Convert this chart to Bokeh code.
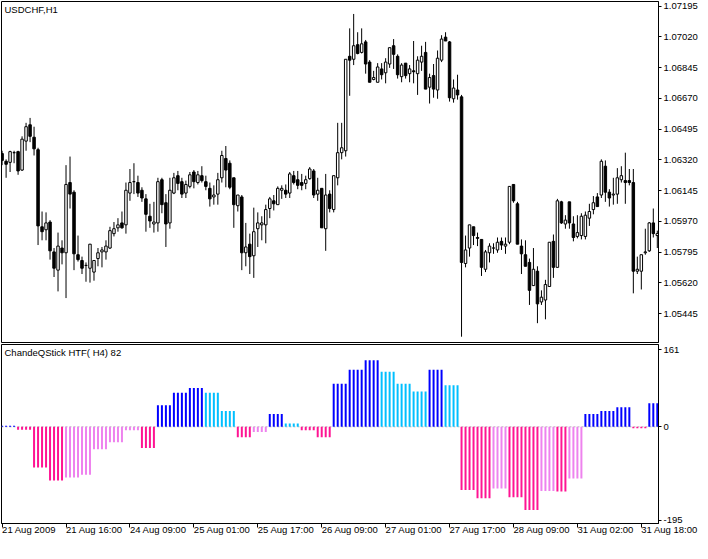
from bokeh.plotting import figure
from bokeh.layouts import column
from bokeh.models import Range1d, FixedTicker, PrintfTickFormatter, Span, Label, ColumnDataSource
from bokeh.embed import file_html
from bokeh.resources import INLINE

# ---------------- data: USDCHF H1 candles (21 Aug 2009 00:00 .. 31 Aug 2009 22:00) ----------------
opens = [
    1.06356, 1.06312, 1.06306, 1.06361, 1.06367, 1.06262, 1.06427, 1.06520, 1.06449, 1.06378,
    1.05939, 1.05922, 1.05966, 1.05796, 1.05692, 1.05818, 1.05791, 1.06191, 1.06136, 1.05780,
    1.05747, 1.05719, 1.05703, 1.05681, 1.05758, 1.05796, 1.05796, 1.05818, 1.05900, 1.05933,
    1.05961, 1.05950, 1.06131, 1.06196, 1.06191, 1.06147, 1.06098, 1.05999, 1.05955, 1.05961,
    1.06207, 1.06076, 1.05961, 1.06131, 1.06230, 1.06196, 1.06131, 1.06169, 1.06251, 1.06191,
    1.06230, 1.06196, 1.06158, 1.06109, 1.06125, 1.06218, 1.06328, 1.06301, 1.06218, 1.06059,
    1.06109, 1.05791, 1.05840, 1.05774, 1.05928, 1.05950, 1.05950, 1.06043, 1.06087, 1.06065,
    1.06147, 1.06147, 1.06131, 1.06230, 1.06207, 1.06191, 1.06186, 1.06213, 1.06257, 1.06125,
    1.06158, 1.05928, 1.06125, 1.06037, 1.06218, 1.06361, 1.06372, 1.06910, 1.06893, 1.06976,
    1.06932, 1.06992, 1.06877, 1.06778, 1.06762, 1.06838, 1.06816, 1.06866, 1.06970, 1.06910,
    1.06794, 1.06871, 1.06811, 1.06827, 1.06811, 1.06877, 1.06932, 1.06734, 1.06800, 1.06718,
    1.06888, 1.07019, 1.06992, 1.06668, 1.06718, 1.06679, 1.05730, 1.05818, 1.05939, 1.05878,
    1.05867, 1.05697, 1.05791, 1.05818, 1.05807, 1.05856, 1.05829, 1.05851, 1.06180, 1.06070,
    1.05829, 1.05780, 1.05736, 1.05604, 1.05686, 1.05511, 1.05522, 1.05599, 1.05856, 1.05708,
    1.06081, 1.05955, 1.06081, 1.05955, 1.05884, 1.05889, 1.05884, 1.05988, 1.06037, 1.06109,
    1.06120, 1.06284, 1.06136, 1.06120, 1.06125, 1.06207, 1.06202, 1.06202, 1.06191, 1.05686,
    1.05686, 1.05791, 1.05802, 1.05961, 1.05889,
]
highs = [
    1.06372, 1.06323, 1.06372, 1.06372, 1.06372, 1.06454, 1.06531, 1.06559, 1.06509, 1.06389,
    1.06026, 1.06021, 1.05977, 1.05818, 1.05906, 1.05862, 1.06290, 1.06339, 1.06147, 1.05889,
    1.05769, 1.05736, 1.05840, 1.05747, 1.05818, 1.05824, 1.05862, 1.05939, 1.05966, 1.05988,
    1.06026, 1.06191, 1.06268, 1.06301, 1.06230, 1.06164, 1.06125, 1.06070, 1.06081, 1.06218,
    1.06218, 1.06125, 1.06218, 1.06246, 1.06257, 1.06218, 1.06202, 1.06251, 1.06262, 1.06257,
    1.06284, 1.06230, 1.06191, 1.06175, 1.06246, 1.06372, 1.06399, 1.06317, 1.06218, 1.06120,
    1.06120, 1.05961, 1.05900, 1.06048, 1.06021, 1.05999, 1.06065, 1.06109, 1.06120, 1.06169,
    1.06175, 1.06180, 1.06251, 1.06257, 1.06257, 1.06240, 1.06230, 1.06279, 1.06268, 1.06218,
    1.06158, 1.06240, 1.06147, 1.06230, 1.06531, 1.06531, 1.06893, 1.07069, 1.07151, 1.07047,
    1.07069, 1.07003, 1.06888, 1.06827, 1.06871, 1.06871, 1.06899, 1.06959, 1.07008, 1.06921,
    1.06871, 1.06871, 1.06860, 1.06997, 1.06910, 1.06970, 1.06992, 1.06811, 1.06866, 1.06943,
    1.07030, 1.07047, 1.06997, 1.06778, 1.06805, 1.06690, 1.05889, 1.05950, 1.05939, 1.05906,
    1.05867, 1.05807, 1.05845, 1.05845, 1.05878, 1.05878, 1.05878, 1.06169, 1.06180, 1.06081,
    1.05867, 1.05862, 1.05758, 1.05818, 1.05714, 1.05577, 1.05637, 1.05851, 1.05895, 1.06098,
    1.06087, 1.06005, 1.06081, 1.05999, 1.06005, 1.06016, 1.06026, 1.06070, 1.06114, 1.06131,
    1.06323, 1.06317, 1.06153, 1.06218, 1.06273, 1.06284, 1.06361, 1.06268, 1.06268, 1.05769,
    1.05780, 1.05928, 1.05966, 1.06043, 1.05917,
]
lows = [
    1.06290, 1.06218, 1.06251, 1.06301, 1.06235, 1.06257, 1.06372, 1.06421, 1.06345, 1.05835,
    1.05862, 1.05862, 1.05752, 1.05653, 1.05571, 1.05725, 1.05533, 1.06043, 1.05692, 1.05741,
    1.05670, 1.05626, 1.05621, 1.05632, 1.05714, 1.05708, 1.05752, 1.05813, 1.05884, 1.05911,
    1.05928, 1.05900, 1.06087, 1.06125, 1.06109, 1.06081, 1.05911, 1.05933, 1.05906, 1.05911,
    1.06016, 1.05824, 1.05928, 1.06125, 1.06147, 1.06103, 1.06103, 1.06158, 1.06158, 1.06180,
    1.06191, 1.06147, 1.06054, 1.06065, 1.06065, 1.06191, 1.06164, 1.06153, 1.05933, 1.06026,
    1.05692, 1.05714, 1.05670, 1.05648, 1.05824, 1.05862, 1.05845, 1.05988, 1.06032, 1.06065,
    1.06098, 1.06103, 1.06103, 1.06180, 1.06153, 1.06147, 1.06153, 1.06207, 1.06103, 1.06087,
    1.05933, 1.05802, 1.06021, 1.06021, 1.06175, 1.06323, 1.06339, 1.06685, 1.06860, 1.06921,
    1.06926, 1.06811, 1.06762, 1.06773, 1.06762, 1.06778, 1.06756, 1.06844, 1.06838, 1.06783,
    1.06762, 1.06783, 1.06762, 1.06756, 1.06690, 1.06827, 1.06723, 1.06641, 1.06674, 1.06668,
    1.06877, 1.06997, 1.06652, 1.06646, 1.06663, 1.05313, 1.05708, 1.05769, 1.05835, 1.05829,
    1.05659, 1.05681, 1.05736, 1.05785, 1.05791, 1.05807, 1.05785, 1.05840, 1.06076, 1.05840,
    1.05670, 1.05714, 1.05494, 1.05604, 1.05390, 1.05494, 1.05412, 1.05599, 1.05648, 1.05708,
    1.05955, 1.05928, 1.05928, 1.05856, 1.05873, 1.05867, 1.05867, 1.05944, 1.06010, 1.06054,
    1.06103, 1.06081, 1.06054, 1.06065, 1.06070, 1.06191, 1.06070, 1.06175, 1.05560, 1.05670,
    1.05582, 1.05780, 1.05796, 1.05878, 1.05818,
]
closes = [
    1.06317, 1.06295, 1.06367, 1.06361, 1.06257, 1.06438, 1.06509, 1.06454, 1.06383, 1.05944,
    1.05911, 1.05961, 1.05802, 1.05703, 1.05829, 1.05791, 1.06180, 1.06125, 1.05785, 1.05752,
    1.05703, 1.05719, 1.05840, 1.05747, 1.05791, 1.05807, 1.05829, 1.05917, 1.05928, 1.05950,
    1.05933, 1.06147, 1.06191, 1.06196, 1.06131, 1.06103, 1.06010, 1.05972, 1.05966, 1.06196,
    1.06065, 1.05955, 1.06147, 1.06218, 1.06186, 1.06125, 1.06180, 1.06235, 1.06196, 1.06235,
    1.06202, 1.06169, 1.06098, 1.06120, 1.06207, 1.06345, 1.06262, 1.06164, 1.06065, 1.06120,
    1.05791, 1.05824, 1.05769, 1.05911, 1.05961, 1.05961, 1.06037, 1.06098, 1.06070, 1.06158,
    1.06158, 1.06125, 1.06240, 1.06191, 1.06175, 1.06175, 1.06207, 1.06268, 1.06120, 1.06147,
    1.05933, 1.06120, 1.06043, 1.06230, 1.06361, 1.06389, 1.06893, 1.06888, 1.06970, 1.06926,
    1.06981, 1.06866, 1.06762, 1.06789, 1.06849, 1.06805, 1.06877, 1.06959, 1.06921, 1.06805,
    1.06860, 1.06800, 1.06838, 1.06822, 1.06888, 1.06910, 1.06723, 1.06789, 1.06723, 1.06899,
    1.07008, 1.06997, 1.06674, 1.06729, 1.06690, 1.05736, 1.05807, 1.05950, 1.05889, 1.05873,
    1.05708, 1.05796, 1.05829, 1.05818, 1.05851, 1.05835, 1.05840, 1.06169, 1.06087, 1.05840,
    1.05785, 1.05714, 1.05577, 1.05697, 1.05500, 1.05538, 1.05610, 1.05851, 1.05708, 1.06087,
    1.05961, 1.05977, 1.05961, 1.05878, 1.05906, 1.05999, 1.06005, 1.06026, 1.06076, 1.06054,
    1.06312, 1.06136, 1.06103, 1.06125, 1.06218, 1.06230, 1.06191, 1.06191, 1.05686, 1.05697,
    1.05780, 1.05796, 1.05961, 1.05900, 1.05900,
]

# ChandeQStick HTF(H4): one value per H4 bar, number of H1 bars in it, colour state
qstick_h4 = [2, -6, -85, -112, -106, -100, -47, -32, -7, -44,
             45, 71, 81, 71, 33, -22, -11, 27, 7, -7,
             -22, 90, 119, 139, 115, 90, 74, 119, 87, -132,
             -149, -129, -147, -174, -134, -135, -108, 27, 33, 41,
             -3, 49]
h4_bar_counts = [4, 4, 4, 4, 4, 3, 4, 4, 4, 4,
                 4, 4, 4, 4, 4, 4, 4, 4, 4, 4,
                 4, 4, 4, 4, 4, 4, 4, 4, 4, 4,
                 4, 4, 4, 4, 4, 3, 4, 4, 4, 4,
                 4, 3]
h4_state = ["up", "dn", "dn", "dn", "dnr", "dnr", "dnr", "dnr", "dnr", "dn",
            "up", "up", "up", "upf", "upf", "dn", "dnr", "up", "upf", "dn",
            "dn", "up", "up", "up", "upf", "upf", "upf", "up", "upf", "dn",
            "dn", "dnr", "dn", "dn", "dnr", "dn", "dnr", "up", "up", "up",
            "dn", "up"]
state_colors = {"up": "#0000FF", "upf": "#00BFFF", "dn": "#FF1493", "dnr": "#EE82EE"}

date_tick_bars = [0, 16, 32, 48, 64, 80, 96, 112, 128, 144, 160]
date_tick_labels = ["21 Aug 2009", "21 Aug 16:00", "24 Aug 09:00", "25 Aug 01:00",
                    "25 Aug 17:00", "26 Aug 09:00", "27 Aug 01:00", "27 Aug 17:00",
                    "28 Aug 09:00", "31 Aug 02:00", "31 Aug 18:00"]
price_ticks = [1.05445, 1.05620, 1.05795, 1.05970, 1.06145, 1.06320,
               1.06495, 1.06670, 1.06845, 1.07020, 1.07195]
qstick_ticks = [-195, 0, 161]

# ---------------- build ----------------
FONT = "Liberation Sans"
FS = "9.5px"

n = len(opens)
idx = list(range(n))
body_top = [max(o, c) for o, c in zip(opens, closes)]
body_bot = [min(o, c) for o, c in zip(opens, closes)]
body_fill = ["white" if c >= o else "black" for o, c in zip(opens, closes)]
csrc = ColumnDataSource(dict(x=idx, o=opens, h=highs, l=lows, c=closes,
                             bt=body_top, bb=body_bot, f=body_fill))

hist_vals, hist_cols = [], []
for v, cnt, st in zip(qstick_h4, h4_bar_counts, h4_state):
    hist_vals += [v] * cnt
    hist_cols += [state_colors[st]] * cnt
hsrc = ColumnDataSource(dict(x=list(range(len(hist_vals))), v=hist_vals, col=hist_cols))

xr = Range1d(-0.15, 164.3)


def style_axis(ax):
    ax.axis_line_color = "black"
    ax.major_tick_line_color = "black"
    ax.minor_tick_line_color = None
    ax.major_tick_in = 0
    ax.major_label_text_font = FONT
    ax.major_label_text_font_size = FS
    ax.major_label_text_color = "black"


p = figure(width=700, height=343, x_range=xr, y_range=Range1d(1.05280, 1.07222),
           output_backend="svg", toolbar_location=None,
           y_axis_location="right", x_axis_location=None,
           min_border_left=1, min_border_top=1, min_border_bottom=1, min_border_right=41,
           background_fill_color="white", border_fill_color="white")
p.grid.visible = False
p.outline_line_color = "black"
p.outline_line_alpha = 1.0
p.segment(x0="x", y0="l", x1="x", y1="h", source=csrc, line_color="black", line_width=1)
p.vbar(x="x", width=0.62, top="bt", bottom="bb", source=csrc,
       fill_color="f", line_color="black", line_width=1)
ya = p.yaxis[0]
ya.ticker = FixedTicker(ticks=price_ticks)
ya.formatter = PrintfTickFormatter(format="%.5f")
style_axis(ya)
ya.major_tick_out = 3
ya.major_label_standoff = 2
p.add_layout(Label(x=-0.15, y=1.07222, x_offset=3, y_offset=-2, text="USDCHF,H1",
                   text_baseline="top", text_align="left", text_font=FONT,
                   text_font_size=FS, text_color="black"))

q = figure(width=700, height=200, x_range=xr, y_range=Range1d(-202, 172),
           output_backend="svg", toolbar_location=None,
           y_axis_location="right",
           min_border_left=1, min_border_top=1, min_border_bottom=16, min_border_right=41,
           background_fill_color="white", border_fill_color="white")
q.grid.visible = False
q.outline_line_color = "black"
q.outline_line_alpha = 1.0
q.add_layout(Span(location=0, dimension="width", line_color="#BDBDBD", line_width=1,
                  line_dash="2 2", level="underlay"))
q.vbar(x="x", width=0.5, top="v", bottom=0, source=hsrc, fill_color="col", line_color=None)
qa = q.yaxis[0]
qa.ticker = FixedTicker(ticks=qstick_ticks)
qa.major_label_overrides = {t: str(t) for t in qstick_ticks}
style_axis(qa)
qa.major_tick_out = 3
qa.major_label_standoff = 2
xa = q.xaxis[0]
xa.ticker = FixedTicker(ticks=date_tick_bars)
xa.major_label_overrides = {b: s for b, s in zip(date_tick_bars, date_tick_labels)}
style_axis(xa)
xa.major_tick_out = 4
xa.major_label_standoff = 2
xa.major_label_orientation = -0.0001
q.add_layout(Label(x=-0.15, y=172, x_offset=3, y_offset=-2, text="ChandeQStick HTF( H4) 82",
                   text_baseline="top", text_align="left", text_font=FONT,
                   text_font_size=FS, text_color="black"))

layout = column(p, q, spacing=0)
open("out.html", "w").write(file_html(layout, INLINE))
